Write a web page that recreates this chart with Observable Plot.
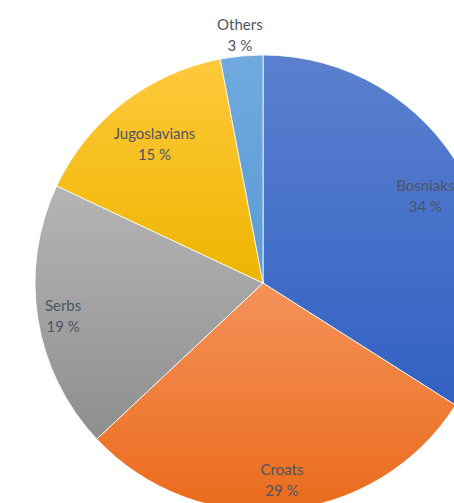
<!DOCTYPE html>
<html><head><meta charset="utf-8">
<script src="https://cdn.jsdelivr.net/npm/d3@7"></script>
<script src="https://cdn.jsdelivr.net/npm/@observablehq/plot@0.6"></script>
<style>body{margin:0;background:#fff} #chart svg{display:block}</style>
</head><body><div id="chart"></div>
<script>
const categories = ["Bosniaks", "Croats", "Serbs", "Jugoslavians", "Others"];
const shares = [34, 29, 19, 15, 3];
const topColors = ["#5b80cf", "#f5925a", "#b5b5b5", "#ffc93c", "#70a9de"];
const bottomColors = ["#3261c3", "#ea6b1b", "#8e8e8e", "#edb500", "#5b9bd5"];
const labelRadius = [0.81, 0.86, 0.89, 0.78, 1.1];

const rows = categories.map((name, i) => ({name, value: shares[i], i}));
const arcs = d3.pie().sort(null).value(d => d.value)(rows);
const labels = arcs.map(a => {
  const mid = (a.startAngle + a.endAngle) / 2;
  const k = labelRadius[a.data.i];
  return {...a.data, lx: k * Math.sin(mid), ly: -k * Math.cos(mid)};
});

function pieMark(index, scales) {
  const cx = scales.x(0), cy = scales.y(0), r = scales.x(1) - cx;
  const g = d3.create("svg:g");
  const defs = g.append("defs");
  arcs.forEach((a, i) => {
    const lg = defs.append("linearGradient").attr("id", "grad" + i)
      .attr("x1", 0).attr("y1", 0).attr("x2", 0).attr("y2", 1);
    lg.append("stop").attr("offset", 0).attr("stop-color", topColors[i]);
    lg.append("stop").attr("offset", 1).attr("stop-color", bottomColors[i]);
  });
  const arc = d3.arc().innerRadius(0).outerRadius(r);
  g.selectAll("path").data(arcs).join("path")
    .attr("transform", `translate(${cx},${cy})`)
    .attr("d", arc)
    .attr("fill", (d, i) => `url(#grad${i})`)
    .attr("stroke", "#ffffff")
    .attr("stroke-width", 0.8);
  return g.node();
}

const R = 228;
const chart = Plot.plot({
  width: 454,
  height: 503,
  margin: 0,
  x: {domain: [-263 / R, 191 / R], range: [0, 454], axis: null},
  y: {domain: [-283 / R, 220 / R], range: [0, 503], axis: null},
  style: {background: "#fff", fontFamily: "Lato, 'Open Sans', sans-serif"},
  marks: [
    pieMark,
    Plot.text(labels, {
      x: "lx", y: "ly",
      text: d => `${d.name}\n${d.value} %`,
      fontSize: 15,
      lineHeight: 1.4,
      fill: "#4d5566",
      textAnchor: "middle"
    })
  ]
});
document.getElementById("chart").appendChild(chart);
</script>
</body></html>
